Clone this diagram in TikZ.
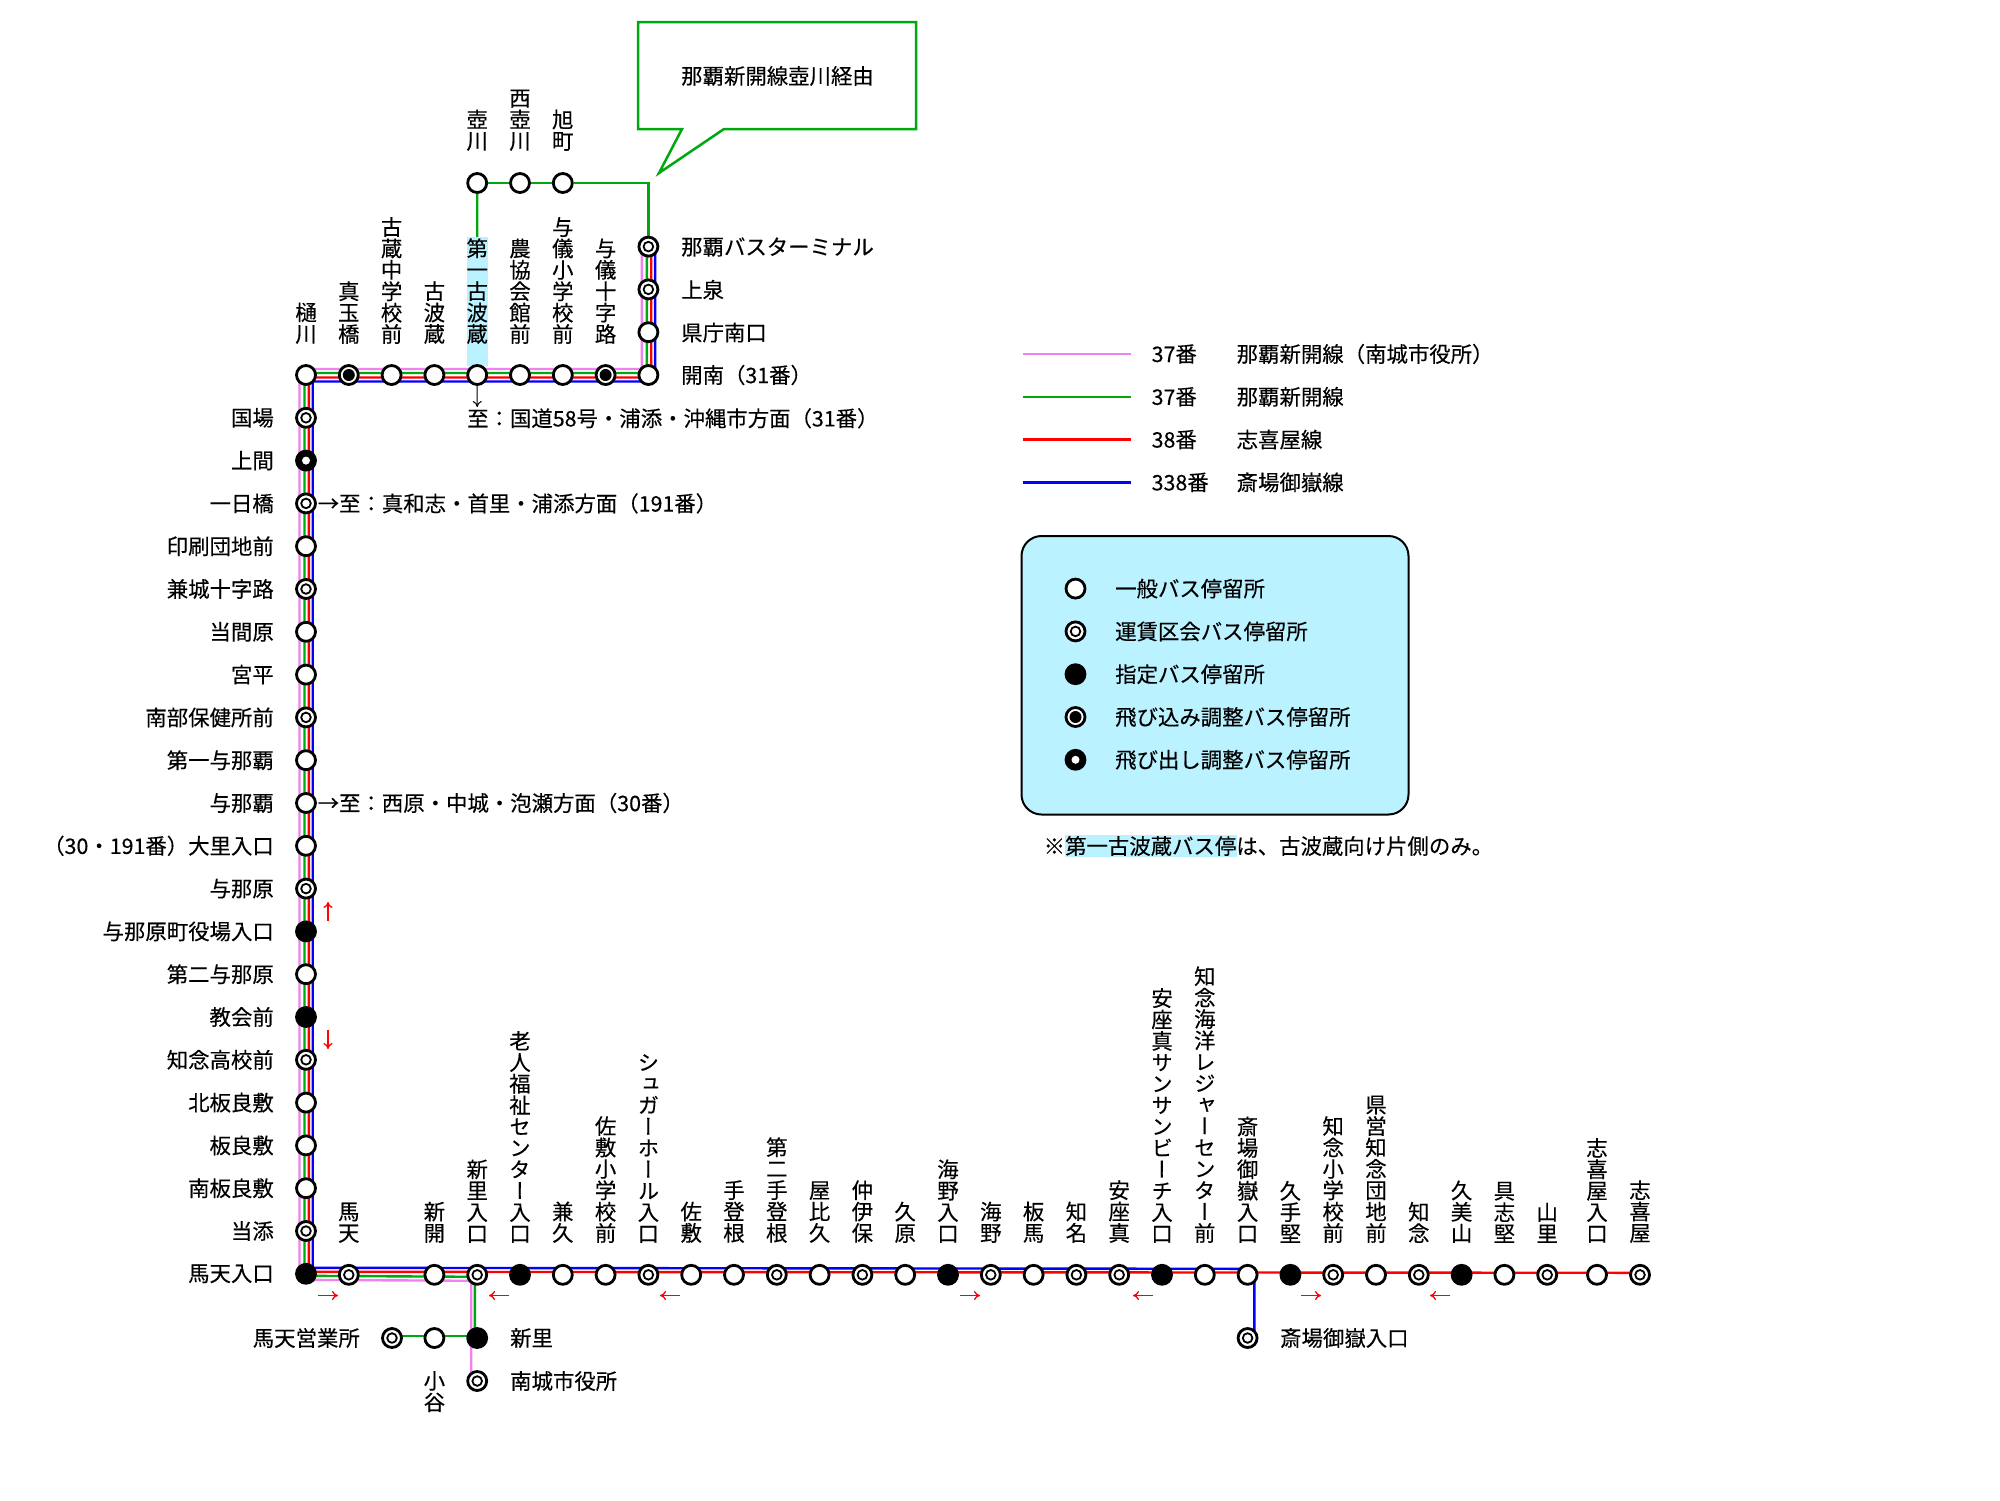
\documentclass[tikz,border=0pt]{standalone}
\usepackage{fontspec}
\setmainfont[FakeBold=0.25]{Noto Sans CJK JP}
\newfontfamily\vfont[RawFeature=+vert,FakeBold=0.25]{Noto Sans CJK JP}
\usetikzlibrary{arrows.meta,backgrounds}
\definecolor{cpink}{HTML}{EE82EE}
\definecolor{cgreen}{HTML}{00A810}
\definecolor{cred}{HTML}{FF0000}
\definecolor{cblue}{HTML}{0000FF}
\definecolor{chigh}{HTML}{BBF2FF}
\def\vchars#1#2\vend{\hbox to 21.4pt{\hss#1\hss}\ifx\relax#2\relax\else\vchars#2\vend\fi}
\newcommand{\vlab}[1]{\edef\vtmp{#1}\vbox{\vfont\baselineskip=21.4pt\lineskiplimit=-100pt\relax\expandafter\vchars\vtmp\vend}}
\tikzset{
 x=1pt,y=-1pt,
 stopbase/.style={circle,draw=black,line width=2.8pt,minimum size=19pt,inner sep=0pt,fill=white},
 plainstop/.style={stopbase},
 farestop/.style={stopbase,path picture={\draw[line width=1.8pt] (path picture bounding box.center) circle (4.8pt);}},
 fixstop/.style={stopbase,fill=black},
 instop/.style={stopbase,path picture={\fill[black] (path picture bounding box.center) circle (6pt);}},
 outstop/.style={stopbase,fill=black,path picture={\fill[white] (path picture bounding box.center) circle (4pt);}},
 txt/.style={font=\fontsize{21.4}{21.4}\selectfont,inner sep=0pt,text=black},
 ltxt/.style={txt,anchor=east},
 rtxt/.style={txt,anchor=west},
 vtxt/.style={txt,anchor=south},
 route/.style={line width=2.4pt,line join=miter},
 pinkline/.style={route,draw=cpink},
 greenline/.style={route,draw=cgreen},
 redline/.style={route,draw=cred},
 blueline/.style={route,draw=cblue},
 redarrow/.style={draw=cred,line width=1.3pt,-{To[length=6pt,width=9pt]}},
 thinarrow/.style={draw=black,line width=1pt,-{To[length=6pt,width=9pt]}},
}
\begin{document}
\begin{tikzpicture}
\useasboundingbox (0,0) rectangle (2000,1500);
% top row
\foreach \ty/\lab [count=\i from 0] in {plainstop/樋川,instop/真玉橋,plainstop/古蔵中学校前,plainstop/古波蔵,plainstop/第一古波蔵,plainstop/農協会館前,plainstop/与儀小学校前,instop/与儀十字路}{
  \pgfmathsetmacro{\xx}{306+42.8*\i}
  \node[\ty] (T\i) at (\xx,375) {};
  \node[vtxt] (TL\i) at (\xx,344) {\vlab{\lab}};
}
\node[plainstop] (T8) at (648.4,375) {};
\node[rtxt] (TL8) at (681,375) {開南（31番）};
% right column
\node[farestop] (R0) at (648.4,246.6) {};
\node[farestop] (R1) at (648.4,289.4) {};
\node[plainstop] (R2) at (648.4,332.2) {};
\node[rtxt] (RL0) at (681,247) {那覇バスターミナル};
\node[rtxt] (RL1) at (681,289.8) {上泉};
\node[rtxt] (RL2) at (681,332.6) {県庁南口};
% upper branch
\foreach \nm/\lab/\xx in {Ua/壺川/477.2,Ub/西壺川/520,Uc/旭町/562.8}{
  \node[plainstop] (\nm) at (\xx,183) {};
  \node[vtxt] (\nm L) at (\xx,151) {\vlab{\lab}};
}
% left column
\foreach \ty/\lab [count=\i from 1] in {farestop/国場,outstop/上間,farestop/一日橋,plainstop/印刷団地前,farestop/兼城十字路,plainstop/当間原,plainstop/宮平,farestop/南部保健所前,plainstop/第一与那覇,plainstop/与那覇,plainstop/（30・191番）大里入口,farestop/与那原,fixstop/与那原町役場入口,plainstop/第二与那原,fixstop/教会前,farestop/知念高校前,plainstop/北板良敷,plainstop/板良敷,plainstop/南板良敷,farestop/当添,fixstop/馬天入口}{
  \pgfmathsetmacro{\yy}{375+42.8*\i}
  \node[\ty] (V\i) at (306,\yy) {};
  \node[ltxt] (VL\i) at (274,\yy) {\lab};
}
% bottom row
\foreach \ty/\lab/\cc in {farestop/馬天/1,plainstop/新開/3,farestop/新里入口/4,fixstop/老人福祉センター入口/5,plainstop/兼久/6,plainstop/佐敷小学校前/7,farestop/シュガーホール入口/8,plainstop/佐敷/9,plainstop/手登根/10,farestop/第二手登根/11,plainstop/屋比久/12,farestop/仲伊保/13,plainstop/久原/14,fixstop/海野入口/15,farestop/海野/16,plainstop/板馬/17,farestop/知名/18,farestop/安座真/19,fixstop/安座真サンサンビーチ入口/20,plainstop/知念海洋レジャーセンター前/21,plainstop/斎場御嶽入口/22,fixstop/久手堅/23,farestop/知念小学校前/24,plainstop/県営知念団地前/25,farestop/知念/26,fixstop/久美山/27,plainstop/具志堅/28,farestop/山里/29}{
  \pgfmathsetmacro{\xx}{306+42.8*\cc}
  \node[\ty] (B\cc) at (\xx,1274.8) {};
  \node[vtxt] (BL\cc) at (\xx,1243) {\vlab{\lab}};
}
\node[plainstop] (B30) at (1597,1274.8) {};
\node[vtxt] (BL30) at (1597,1243) {\vlab{志喜屋入口}};
\node[farestop] (B31) at (1640,1274.8) {};
\node[vtxt] (BL31) at (1640,1243) {\vlab{志喜屋}};
% lower branches
\node[farestop] (Ea) at (392,1338) {};
\node[plainstop] (Eb) at (434.4,1338) {};
\node[fixstop] (Ec) at (477.2,1338) {};
\node[farestop] (Ed) at (477.2,1381) {};
\node[farestop] (Ee) at (1247.6,1338) {};
\node[ltxt] (EaL) at (360,1338) {馬天営業所};
\node[rtxt] (EcL) at (510,1338) {新里};
\node[rtxt] (EdL) at (510,1381) {南城市役所};
\node[rtxt] (EeL) at (1280,1338) {斎場御嶽入口};
\node[txt,anchor=north] (EbL) at (434.4,1371) {\vlab{小谷}};
% direction notes
\node[rtxt] (Na) at (317.5,503.4) {→至：真和志・首里・浦添方面（191番）};
\node[rtxt] (Nb) at (317.5,803) {→至：西原・中城・泡瀬方面（30番）};
\node[rtxt] (Nc) at (467,418.3) {至：国道58号・浦添・沖縄市方面（31番）};
\coordinate (Ncarrow) at (477.2,407);
\draw[thinarrow] (T4) -- (Ncarrow);
% callout
\draw[draw=cgreen,line width=2.5pt,fill=white,miter limit=20] (638,22) -- (916,22) -- (916,129) -- (724,129) -- (659,173) -- (682,129) -- (638,129) -- cycle;
\node[txt] (Callout) at (777.5,76) {那覇新開線壺川経由};
% legend lines
\foreach \cl/\no/\lab/\yy in {pinkline/37番/那覇新開線（南城市役所）/354,greenline/37番/那覇新開線/396.8,redline/38番/志喜屋線/439.6,blueline/338番/斎場御嶽線/482.4}{
  \coordinate (La) at (1022.5,\yy);
  \coordinate (Lb) at (1130.5,\yy);
  \draw[\cl] (La) -- (Lb);
  \node[rtxt] at (1151.5,\yy) {\no};
  \node[rtxt] at (1236.5,\yy) {\lab};
}
% stop legend
\draw[draw=black,line width=2pt,fill=chigh,rounded corners=20pt] (1021.5,536) rectangle (1408.5,814.5);
\foreach \ty/\lab/\yy in {plainstop/一般バス停留所/588.6,farestop/運賃区会バス停留所/631.4,fixstop/指定バス停留所/674.2,instop/飛び込み調整バス停留所/717,outstop/飛び出し調整バス停留所/759.8}{
  \node[\ty] at (1075.5,\yy) {};
  \node[rtxt] at (1115,\yy) {\lab};
}
\node[rtxt] (Foot) at (1043.5,846) {※第一古波蔵バス停は、古波蔵向け片側のみ。};
% direction arrows
\coordinate (Ua1) at (328,921); \coordinate (Ua2) at (328,902);
\draw[redarrow] (Ua1) -- (Ua2);
\coordinate (Da1) at (328,1030); \coordinate (Da2) at (328,1049);
\draw[redarrow] (Da1) -- (Da2);
\foreach \cx/\d in {328/1,499/-1,670/-1,970/1,1143/-1,1311/1,1440/-1}{
  \coordinate (Ha) at ({\cx-10*\d},1295.5);
  \coordinate (Hb) at ({\cx+10*\d},1295.5);
  \draw[redarrow] (Ha) -- (Hb);
}
% route lines underneath
\begin{scope}[on background layer]
\fill[white] (0,0) rectangle (2000,1500);
\draw[pinkline] ([xshift=-6.5pt]R0.center) -- ([shift={(-6.5pt,6pt)}]T8.center) -- ([shift={(-6.5pt,6pt)}]T0.center) -- ([shift={(-6.5pt,-6pt)}]V21.center) -- ([shift={(-6pt,-6pt)}]B4.center) -- ([xshift=-6pt]Ed.center);
\draw[greenline] (Ua) -- (Ub) -- (Uc) -| (R0.center);
\draw[greenline] (Ua) -- (T4);
\draw[greenline] ([xshift=-1.5pt]R0.center) -- ([shift={(-1.5pt,2pt)}]T8.center) -- ([shift={(-1.5pt,2pt)}]T0.center) -- ([shift={(-1.5pt,-2pt)}]V21.center) -- ([shift={(-2.3pt,-2pt)}]B4.center) -- ([xshift=-2.3pt]Ec.center);
\draw[greenline] ([yshift=2pt]Ea.center) -- ([yshift=2pt]Ec.center);
\draw[redline] ([xshift=2.8pt]R0.center) -- ([shift={(2.8pt,-2.5pt)}]T8.center) -- ([shift={(2.8pt,-2.5pt)}]T0.center) -- ([shift={(2.8pt,2pt)}]V21.center) -- ([yshift=2pt]B31.center);
\draw[blueline] ([xshift=6.7pt]R0.center) -- ([shift={(6.7pt,-6.5pt)}]T8.center) -- ([shift={(6.7pt,-6.5pt)}]T0.center) -- ([shift={(6.7pt,6pt)}]V21.center) -- ([yshift=6pt]B22.center);
\draw[blueline] ([xshift=6.7pt]B22.center) -- ([xshift=6.7pt]Ee.center);
\fill[chigh] (466.5,237) rectangle (488,366);
\fill[chigh] (1064.5,835) rectangle (1236.5,857);
\end{scope}
\end{tikzpicture}
\end{document}
